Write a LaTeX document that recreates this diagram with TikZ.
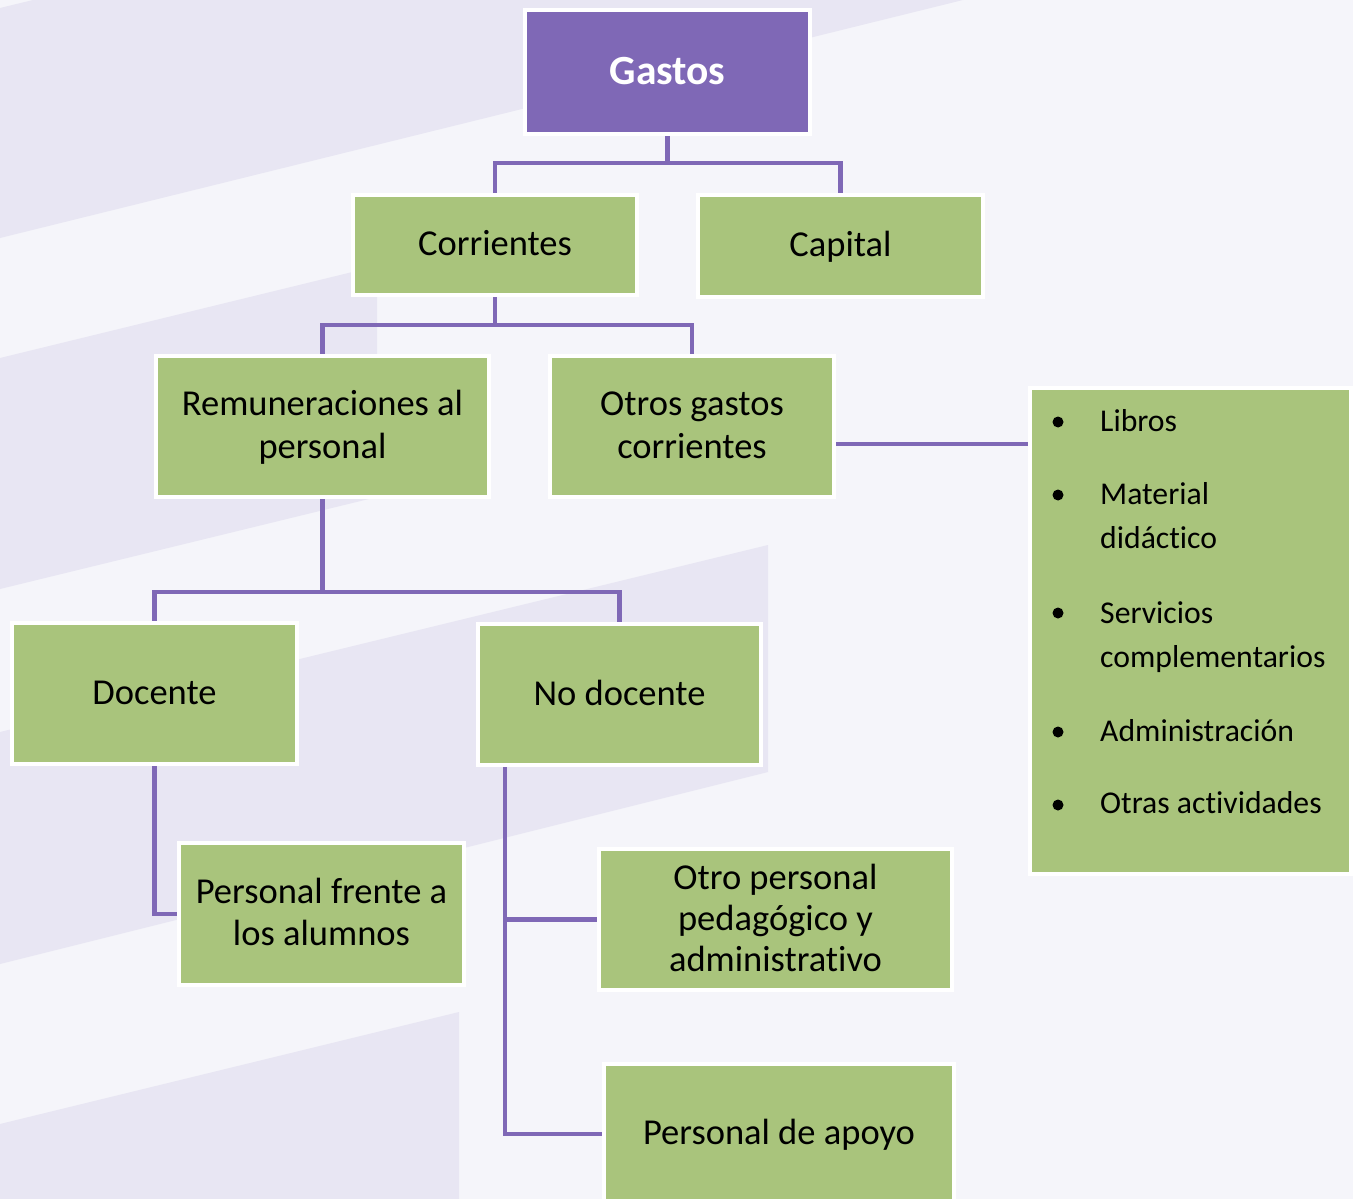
\documentclass[tikz,border=0pt]{standalone}
\usepackage{fontspec}
\setmainfont{Carlito}[Ligatures={NoCommon,NoContextual}]
\usetikzlibrary{backgrounds,calc}
\definecolor{bgc}{HTML}{F5F5FA}
\definecolor{bandc}{HTML}{E8E6F3}
\definecolor{purp}{HTML}{7F68B6}
\definecolor{grn}{HTML}{A9C47C}
\newcommand\bstrut{\rule[-0.28em]{0pt}{1.14em}}
\tikzset{
  box/.style={draw=white, line width=4pt, fill=grn, inner sep=0pt, outer sep=0pt,
    align=center, font=\fontsize{36.5}{41}\selectfont, text=black},
  topbox/.style={box, fill=purp, text=white, font=\fontsize{41.5}{46}\selectfont\bfseries},
  conn/.style={draw=purp, line width=4.5pt},
  li/.style={anchor=base west, inner sep=0pt, font=\fontsize{31.7}{36}\selectfont, text=black},
}
\begin{document}
\begin{tikzpicture}[x=1pt,y=-1pt]
\useasboundingbox (0,0) rectangle (1353,1199);
% nodes
\node[topbox, minimum width=285pt, minimum height=124pt] (gastos) at (667.5,72) {\bstrut Gastos\bstrut};
\node[box, minimum width=284pt, minimum height=100pt] (corr) at (495,245) {\bstrut Corrientes\bstrut};
\node[box, minimum width=285pt, minimum height=102pt] (cap) at (840.5,246) {\bstrut Capital\bstrut};
\node[box, minimum width=333pt, minimum height=141pt] (rem) at (322.5,426.5) {\bstrut Remuneraciones al\\personal\bstrut};
\node[box, minimum width=284pt, minimum height=141pt] (otros) at (692,426.5) {\bstrut Otros gastos\\corrientes\bstrut};
\node[box, minimum width=321pt, minimum height=486pt] (lista) at (1190.5,631) {};
\node[box, minimum width=285pt, minimum height=141pt] (doc) at (154.5,693.5) {\bstrut Docente\bstrut};
\node[box, minimum width=283pt, minimum height=141pt] (nodoc) at (619.5,694.5) {\bstrut No docente\bstrut};
\node[box, minimum width=285pt, minimum height=142pt] (pfa) at (321.5,914) {\bstrut Personal frente a\\los alumnos\bstrut};
\node[box, minimum width=353pt, minimum height=141pt] (otro) at (775.5,919.5) {\bstrut Otro personal\\pedagógico y\\administrativo\bstrut};
\node[box, minimum width=350pt, minimum height=141pt] (apoyo) at (779,1134) {\bstrut Personal de apoyo\bstrut};
% list contents
\foreach \yb/\yt/\t in {422/431/Libros, 495/504/Material, 613/623/Servicios, 732/741/Administración, 805/813/Otras actividades}{
  \fill[black] (1058,\yb) circle (5.5pt);
  \node[li] at (1100,\yt) {\t};
}
\node[li] (l2) at (1100,548) {didáctico};
\node[li] (l3) at (1100,667) {complementarios};
% coordinates
\coordinate (j1) at (667.5,163);
\coordinate (j2) at (495,325);
\coordinate (j3) at (930,444);
\coordinate (j4) at (322.5,592);
\coordinate (nd) at (505,766);
\begin{scope}[on background layer]
  \fill[bgc] (0,0) rectangle (1353,1199);
  \fill[bandc] (0,8) -- (33,0) -- (963,0) -- (0,238) -- cycle;
  \fill[bandc] (0,358) -- (377,266) -- (377,497) -- (0,589) -- cycle;
  \fill[bandc] (0,732) -- (768,545) -- (768,772) -- (0,964) -- cycle;
  \fill[bandc] (0,1124) -- (459,1012) -- (459,1199) -- (0,1199) -- cycle;
  \draw[conn] (gastos.south) -- (j1);
  \draw[conn] (j1) -| (corr.north);
  \draw[conn] (j1) -| (cap.north);
  \draw[conn] (corr.south) -- (j2);
  \draw[conn] (j2) -| (rem.north);
  \draw[conn] (j2) -| (otros.north);
  \draw[conn] (otros.east |- j3) -- (lista.west |- j3);
  \draw[conn] (rem.south) -- (j4);
  \draw[conn] (j4) -| (doc.north);
  \draw[conn] (j4) -| (nodoc.north);
  \draw[conn] (doc.south) |- (pfa.west);
  \draw[conn] (nd) |- (otro.west);
  \draw[conn] (nd) |- (apoyo.west);
\end{scope}
\end{tikzpicture}
\end{document}
